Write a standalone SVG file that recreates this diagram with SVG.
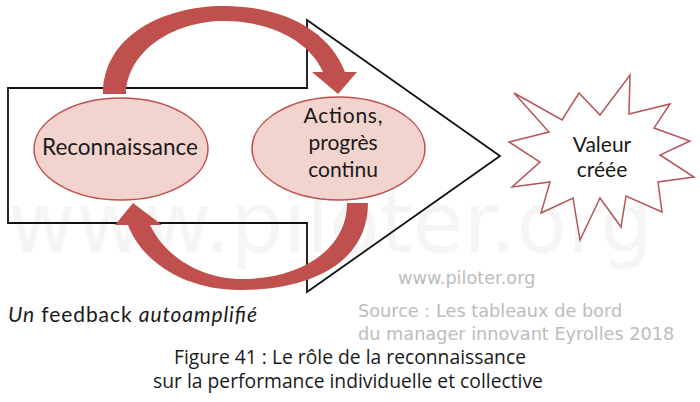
<svg xmlns="http://www.w3.org/2000/svg" width="700" height="402" viewBox="0 0 700 402">
<style>
.wm{font-family:"DejaVu Sans",Verdana,sans-serif;font-size:83px;fill:#f5f5f5}
.lbl{font-family:Lato,"Noto Sans",sans-serif;font-size:22.5px;fill:#1a1a1a;text-anchor:middle}
.lbl2{font-family:Lato,"Noto Sans",sans-serif;font-size:21px;fill:#1a1a1a;text-anchor:middle}
.band{fill:#c0504d}
.node{fill:#f2d3ce;stroke:#c0504d;stroke-width:1.5}
.outline{fill:none;stroke:#111;stroke-width:1.8;stroke-linejoin:miter}
.src{font-family:"DejaVu Sans",Verdana,sans-serif;font-size:17.7px;fill:#bcbcbc}
.cap{font-family:"Open Sans","Noto Sans",sans-serif;font-size:19.3px;fill:#1a1a1a;text-anchor:middle}
.note{font-family:Lato,"Noto Sans",sans-serif;font-size:21px;fill:#1a1a1a}
</style>
<rect width="700" height="402" fill="#ffffff"/>
<text class="wm" x="8" y="252">www.piloter.org</text>
<g id="process-arrow">
<path class="outline" d="M8,88 L307,88 L307,20 L500,156 L307,292 L307,223 L8,223 Z"/>
</g>
<g id="connectors">
<path class="band" d="M103,94 C103,38 160,6 224,6 C285,6 330,32 345,72 L357,72 L338,94 L312,72 L323,72 C310,42 272,21 224,21 C172,21 127,52 126,94 Z"/>
<path class="band" d="M368,203 C368,262 312,290 240,290 C185,290 142,262 128,225 L115,225 L133,203 L162,225 L150,225 C165,256 200,279 242,279 C300,279 347,250 347,203 Z"/>
</g>
<g id="node-reconnaissance">
<ellipse class="node" cx="121" cy="149" rx="87" ry="51"/>
<text class="lbl" x="120" y="155">Reconnaissance</text>
</g>
<g id="node-actions">
<ellipse class="node" cx="338.5" cy="148.5" rx="86.5" ry="51.5"/>
<text class="lbl2" x="343" y="123" textLength="79">Actions,</text>
<text class="lbl2" x="343" y="150">progrès</text>
<text class="lbl2" x="343" y="177">continu</text>
</g>
<g id="node-valeur">
<polygon fill="#ffffff" stroke="#b5555a" stroke-width="1.5" stroke-linejoin="miter" points="514,93 562,120 579,93 600,115 630,75 629,114 670,104 654,128 690,141 660,155 694,177 658,182 662,212 626,196 621,227 600,198 580,240 573,198 541,213 550,182 512,187 540,162 509,142 549,132"/>
<text class="lbl2" x="602" y="152" font-size="20">Valeur</text>
<text class="lbl2" x="602" y="177" font-size="20">créée</text>
</g>
<text class="note" x="8" y="322" textLength="249"><tspan font-style="italic">Un</tspan> feedback <tspan font-style="italic">autoamplifié</tspan></text>
<text class="src" x="398" y="284" font-size="16.3">www.piloter.org</text>
<text class="src" x="358" y="317">Source : Les tableaux de bord</text>
<text class="src" x="358" y="340">du manager innovant Eyrolles 2018</text>
<text class="cap" x="350" y="364">Figure 41 : Le rôle de la reconnaissance</text>
<text class="cap" x="348" y="388">sur la performance individuelle et collective</text>
</svg>
